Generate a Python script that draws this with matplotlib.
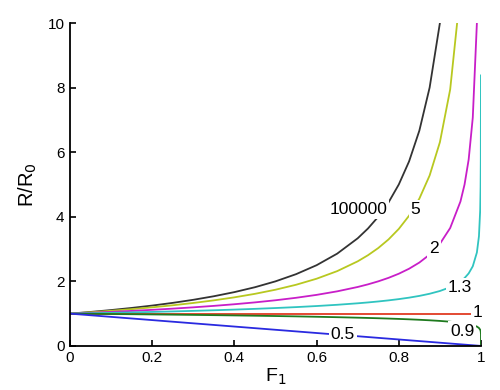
import matplotlib
matplotlib.use("Agg")
import matplotlib.pyplot as plt

# fraction converted, shared by all curves (dense near F = 1)
F = [0, 0.05, 0.1, 0.15, 0.2, 0.25, 0.3, 0.35, 0.4, 0.45, 0.5, 0.55, 0.6, 0.65,
     0.7, 0.725, 0.75, 0.775, 0.8, 0.825, 0.85, 0.875, 0.9, 0.925, 0.95,
     0.96, 0.97, 0.98, 0.99, 0.995, 0.998, 0.999, 0.9995, 0.9999]

# R/R0 (values above 10 are cut by the axis)
r_100000 = [1, 1.0526, 1.1111, 1.1765, 1.25, 1.3333, 1.4286, 1.5385, 1.6667, 1.8182,
            2.0, 2.2222, 2.5, 2.8571, 3.3333, 3.6364, 4.0, 4.4444, 5.0, 5.7143,
            6.6667, 8.0, 10.0, 13.33]
r_5 = [1, 1.0419, 1.0879, 1.1389, 1.1954, 1.2588, 1.3302, 1.4114, 1.5048, 1.6133,
       1.7411, 1.8942, 2.0814, 2.3161, 2.6200, 2.8089, 3.0314, 3.2980, 3.6239,
       4.0324, 4.5618, 5.2780, 6.3096, 7.9425, 10.986]
r_2 = [1, 1.0260, 1.0541, 1.0847, 1.1180, 1.1547, 1.1952, 1.2403, 1.2910, 1.3484,
       1.4142, 1.4907, 1.5811, 1.6903, 1.8257, 1.9069, 2.0, 2.1082, 2.2361, 2.3905,
       2.5820, 2.8284, 3.1623, 3.6515, 4.4721, 5.0, 5.7735, 7.0711, 10.0, 14.14]
r_1_3 = [1, 1.0119, 1.0246, 1.0382, 1.0528, 1.0686, 1.0858, 1.1045, 1.1251, 1.1479,
         1.1735, 1.2023, 1.2355, 1.2741, 1.3203, 1.3470, 1.3770, 1.4109, 1.4498,
         1.4951, 1.5493, 1.6159, 1.7012, 1.8179, 1.9963, 2.1018, 2.2461, 2.4665,
         2.8942, 3.3963, 4.1961, 4.9239, 5.7787, 8.3768]
r_1 = [1] * len(F)
r_0_9 = [1, 0.9943, 0.9884, 0.9821, 0.9755, 0.9685, 0.9611, 0.9533, 0.9448, 0.9357,
         0.9259, 0.9151, 0.9032, 0.8899, 0.8748, 0.8664, 0.8572, 0.8473, 0.8363,
         0.8239, 0.8099, 0.7937, 0.7743, 0.7499, 0.7169, 0.6993, 0.6773, 0.6475,
         0.5995, 0.5550, 0.5013, 0.4642, 0.4298, 0.3594, 0.0]
r_0_5 = [1, 0.95, 0.9, 0.85, 0.8, 0.75, 0.7, 0.65, 0.6, 0.55, 0.5, 0.45, 0.4, 0.35,
         0.3, 0.275, 0.25, 0.225, 0.2, 0.175, 0.15, 0.125, 0.1, 0.075, 0.05,
         0.04, 0.03, 0.02, 0.01, 0.005, 0.002, 0.001, 0.0005, 0.0001]

labels = ["100000", "5", "2", "1.3", "1", "0.9", "0.5"]
series = [r_100000, r_5, r_2, r_1_3, r_1, r_0_9, r_0_5]
colors = ["#333333", "#b8c820", "#c81ec8", "#30c4c0", "#e03a22", "#1e7a1e", "#2a2ae0"]
# where each inline label sits (F, R/R0)
label_pos = [(0.701, 4.22), (0.841, 4.22), (0.886, 3.03), (0.949, 1.81),
             (0.992, 1.02), (0.954, 0.46), (0.664, 0.34)]

plt.rcParams['font.family'] = ['Liberation Sans', 'DejaVu Sans']

fig = plt.figure(figsize=(5, 3.9), dpi=100)
ax = fig.add_axes([0.14, 0.113, 0.822, 0.828])

for r, c in zip(series, colors):
    f = F + [1.0] if len(r) > len(F) else F[:len(r)]
    ax.plot(f, r, color=c, lw=1.3)

for lab, (x, y) in zip(labels, label_pos):
    ax.text(x, y, lab, fontsize=12.5, ha='center', va='center', zorder=5,
            bbox=dict(facecolor='white', edgecolor='none', pad=1.5))

ax.set_xlim(0, 1)
ax.set_ylim(0, 10)
ax.set_xticks([0, 0.2, 0.4, 0.6, 0.8, 1])
ax.set_xticklabels(["0", "0.2", "0.4", "0.6", "0.8", "1"])
ax.set_yticks([0, 2, 4, 6, 8, 10])
ax.tick_params(direction='in', length=4, width=1.2, labelsize=11, pad=4)
for s in ['top', 'right']:
    ax.spines[s].set_visible(False)
for s in ['left', 'bottom']:
    ax.spines[s].set_linewidth(1.3)

ax.set_xlabel("F$_1$", fontsize=14, labelpad=1)
ax.set_ylabel("R/R$_0$", fontsize=14.5, labelpad=6)

fig.savefig("out.png", dpi=100)
